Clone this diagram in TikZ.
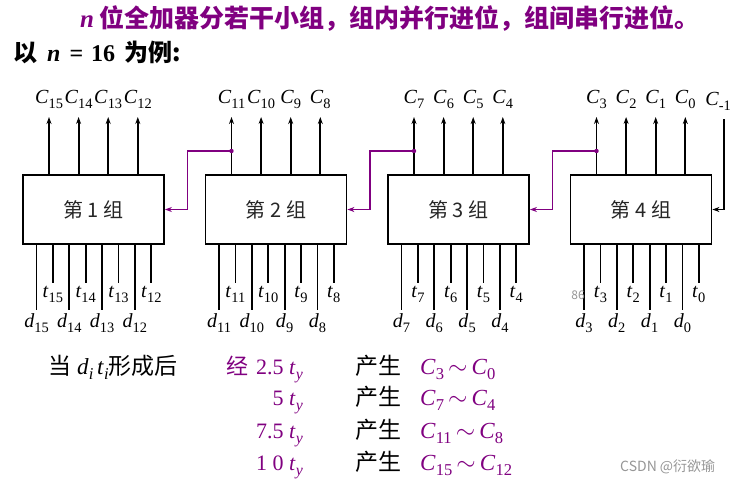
\documentclass[tikz,border=0pt]{standalone}
\usepackage{fontspec}
\setmainfont{Liberation Serif}
\newfontfamily\cjk{Noto Sans CJK SC}
\usetikzlibrary{arrows.meta}
\definecolor{carrypurple}{RGB}{128,0,128}
\definecolor{markgray}{RGB}{150,150,150}
\newcommand\sig[2]{\textit{#1}\raisebox{-0.25em}{\scalebox{0.72}{#2}}}
\newcommand\nvar{{\rmfamily\bfseries\itshape n}}

\begin{document}
\begin{tikzpicture}[x=1pt, y=-1pt, >={Stealth[length=7pt,width=5pt]},
    every node/.style={inner sep=0pt, font=\fontsize{20}{24}\selectfont},
    group/.style={draw, line width=1.8pt, minimum width=141pt, minimum height=69pt,
      text=black!85, font=\cjk\fontsize{20}{24}\selectfont},
    wire/.style={line width=1.8pt},
    carry/.style={line width=1.8pt, draw=carrypurple, ->}]
  \useasboundingbox (0,0) rectangle (735,484);
  % heading
  \node[anchor=west, text=carrypurple, font=\cjk\bfseries\fontsize{25}{30}\selectfont] (title) at (80,19)
    {\nvar{} 位全加器分若干小组，组内并行进位，组间串行进位。};
  \node[anchor=west, font=\cjk\bfseries\fontsize{24}{28}\selectfont] (example) at (13,52)
    {以\hspace{10pt}\nvar\hspace{9pt}{\rmfamily\bfseries =\hspace{8pt}16}\hspace{9pt}为例:};
  % four groups with their carries and inputs
  \foreach \g in {1,...,4}{
    \pgfmathsetmacro{\gx}{93.5+(\g-1)*182.5}
    \node[group] (g\g) at (\gx,209.5) {第 \g\ 组};
    \foreach \k in {0,...,3}{
      \pgfmathtruncatemacro{\idx}{4*(4-\g)+3-\k}
      \pgfmathsetmacro{\ax}{\gx-70.5+26+29.6*\k}
      \pgfmathsetmacro{\dx}{\gx-70.5+13.5+32.8*\k}
      \coordinate (a\idx) at (\ax,117);
      \draw[wire,->] (g\g.north -| a\idx) -- (a\idx);
      \node[above=8pt] (c\idx) at (a\idx) {\sig{C}{\idx}};
      \coordinate (d\idx) at (\dx,310);
      \coordinate (t\idx) at (\dx+16.4,283);
      \draw[wire] (g\g.south -| d\idx) -- (d\idx);
      \draw[wire] (g\g.south -| t\idx) -- (t\idx);
      \node[below=3pt] (dl\idx) at (d\idx) {\sig{d}{\idx}};
      \node[below=3pt] (tl\idx) at (t\idx) {\sig{t}{\idx}};
    }
  }
  % incoming carry
  \coordinate (am1) at (724,119);
  \node[above=8pt, xshift=-6pt] (cm1) at (am1) {\sig{C}{-1}};
  \draw[wire,->] (am1) |- (g4.east);
  % serial carries between groups
  \foreach \src/\dst/\idx in {2/1/11, 3/2/7, 4/3/3}{
    \coordinate (j\src) at (a\idx |- 0,151);
    \draw[carry] (j\src) -- ++(-44,0) |- (g\dst.east);
    \fill[carrypurple] (j\src) circle (2.2pt);
  }
  % timing
  \node[anchor=base west, font=\fontsize{23}{27}\selectfont] (when) at (48,374)
    {{\cjk 当}\hspace{6pt}\sig{d}{\textit{i}}\,\sig{t}{\textit{i}}{\cjk 形成后}};
  \foreach \tm/\lo/\hi/\yy in {2.5/3/0/374, 5/7/4/405, 7.5/11/8/438, 1 0/15/12/470}{
    \node[anchor=base east, text=carrypurple, font=\fontsize{22}{26}\selectfont] (tm\hi) at (303,\yy) {\tm\ \sig{t}{\textit{y}}};
    \node[anchor=base west, font=\cjk\fontsize{23}{27}\selectfont] (gen\hi) at (355,\yy) {产生};
    \node[anchor=base west, text=carrypurple, font=\fontsize{23}{27}\selectfont] (rng\hi) at (420,\yy) {\sig{C}{\lo}$\,\sim\,$\sig{C}{\hi}};
  }
  \node[anchor=base east, xshift=-7pt, text=carrypurple, font=\cjk\fontsize{22}{26}\selectfont] (via) at (tm0.base west) {经};
  % marks
  \node[text=markgray, font=\cjk\fontsize{12}{14}\selectfont] (page) at (578,295) {86};
  \node[anchor=west, text=markgray, font=\cjk\fontsize{14}{16}\selectfont] (mark) at (620,467) {CSDN @衍欲瑜};
\end{tikzpicture}
\end{document}
